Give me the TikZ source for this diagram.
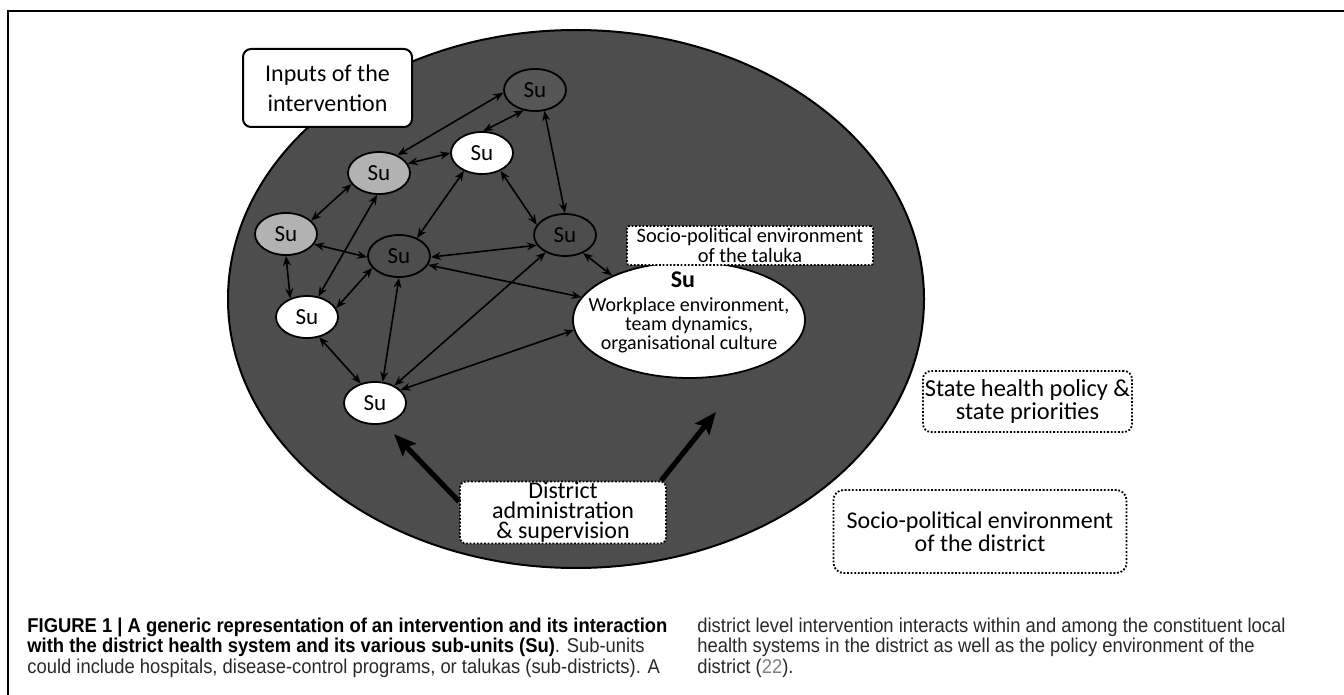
\documentclass[tikz,border=0pt]{standalone}
\usepackage{fontspec}
\setmainfont{Carlito}
\newfontfamily\capfont{Liberation Sans}[FakeStretch=0.92]
\usetikzlibrary{arrows.meta,shapes.geometric}
\definecolor{field}{RGB}{77,77,77}
\definecolor{unitdark}{RGB}{86,86,86}
\definecolor{unitlight}{RGB}{178,178,178}
\definecolor{refgray}{RGB}{128,128,128}
\definecolor{captext}{RGB}{40,40,40}

\begin{document}
\begin{tikzpicture}[x=0.5pt,y=-0.5pt,
  unit/.style={ellipse,draw=black,line width=0.9pt,minimum width=31pt,minimum height=21pt,
    inner sep=0pt,font=\fontsize{11.5}{12}\selectfont},
  link/.style={{Stealth[length=5pt,width=4pt]}-{Stealth[length=5pt,width=4pt]},line width=0.8pt},
  push/.style={-{Stealth[length=11pt,width=9pt,inset=2pt]},line width=2.6pt},
  dotbox/.style={draw=black,fill=white,line width=0.9pt,dash pattern=on 0.9pt off 0.9pt,
    align=center,inner sep=0pt},
  capline/.style={anchor=base west,inner sep=0pt,text=captext,font=\capfont\fontsize{10}{11}\selectfont}
]
\useasboundingbox (0,0) rectangle (1344,695);

% figure frame
\draw[line width=0.75pt] (8,695) -- (8,11) -- (1344,11);

% the district
\node[ellipse,draw=black,fill=field,line width=1pt,minimum width=348pt,minimum height=269pt,
  inner sep=0pt] (district) at (576,299) {};

% sub-units
\node[unit,fill=unitdark]  (s1) at (535,90)  {Su};
\node[unit,fill=white]     (s2) at (482,153) {Su};
\node[unit,fill=unitlight] (s3) at (379,173) {Su};
\node[unit,fill=unitlight] (s4) at (286,234) {Su};
\node[unit,fill=field]     (s5) at (399,256) {Su};
\node[unit,fill=field]     (s6) at (565,235) {Su};
\node[unit,fill=white]     (s7) at (307,317) {Su};
\node[unit,fill=white]     (s8) at (375,403) {Su};

% the taluka sub-unit in detail
\node[ellipse,draw=black,fill=white,line width=0.9pt,minimum width=116pt,minimum height=58pt,
  inner sep=0pt] (core) at (689,320) {};
\node[font=\bfseries\fontsize{12}{12}\selectfont,inner sep=0pt] (coretitle) at (683,280) {Su};
\node[align=center,inner sep=0pt,font=\fontsize{10}{8}\selectfont] (corebody) at (689,325)
  {Workplace environment,\\team dynamics,\\organisational culture};

% interactions between sub-units
\draw[link] (s3.44)  -- (s1.185);
\draw[link] (s1.241) -- (s2.87);
\draw[link] (s3.18)  -- (s2.180);
\draw[link] (s1.294) -- (s6.90);
\draw[link] (s2.225) -- (s5.45);
\draw[link] (s2.316) -- (s6.160);
\draw[link] (s3.202) -- (s4.28);
\draw[link] (s3.265) -- (s7.61);
\draw[link] (s4.340) -- (s5.182);
\draw[link] (s4.270) -- (s7.132);
\draw[link] (s7.17)  -- (s5.204);
\draw[link] (s5.358) -- (s6.200);
\draw[link] (s5.343) -- (core.168);
\draw[link] (s6.315) -- (core.150);
\draw[link] (s5.270) -- (s8.70);
\draw[link] (s6.222) -- (s8.42);
\draw[link] (core.185) -- (s8.27);
\draw[link] (s7.301) -- (s8.126);

% labels and contexts
\node[draw=black,fill=white,line width=1pt,rounded corners=4pt,minimum width=84.5pt,
  minimum height=39pt,align=center,inner sep=0pt,font=\fontsize{12}{15}\selectfont]
  (inputs) at (327.5,88) {Inputs of the\\intervention};
\node[dotbox,rounded corners=1pt,minimum width=123pt,minimum height=19.5pt,
  font=\fontsize{10.2}{7.5}\selectfont] (taluka) at (750,245.5)
  {Socio-political environment\\of the taluka};
\node[dotbox,rounded corners=4pt,minimum width=104.5pt,minimum height=30.5pt,
  font=\fontsize{12.2}{9.5}\selectfont] (state) at (1027.5,401.5)
  {State health policy \&\\state priorities};
\node[dotbox,rounded corners=5pt,minimum width=146.5pt,minimum height=41.5pt,
  font=\fontsize{12}{10}\selectfont] (socio) at (980,531.5)
  {Socio-political environment\\of the district};
\node[dotbox,rounded corners=3pt,minimum width=103pt,minimum height=31pt,
  font=\fontsize{12}{10}\selectfont] (admin) at (563,512.5)
  {District\\administration\\\& supervision};

% district administration acting on the sub-units
\coordinate (aimL) at (394,434);
\coordinate (aimR) at (716,412);
\draw[push] (admin.174) -- (aimL);
\draw[push] (admin.18) -- (aimR);

% caption
\node[capline,text=black] (c1) at (27,632) {\bfseries FIGURE 1 | A generic representation of an intervention and its interaction};
\node[capline] (c2) at (27,652.5) {\textcolor{black}{\bfseries with the district health system and its various sub-units (Su)}. Sub-units};
\node[capline] (c3) at (27,673) {could include hospitals, disease-control programs, or talukas (sub-districts). A};
\node[capline] (c4) at (697,632) {district level intervention interacts within and among the constituent local};
\node[capline] (c5) at (697,652.5) {health systems in the district as well as the policy environment of the};
\node[capline] (c6) at (697,673) {district (\textcolor{refgray}{22}).};
\end{tikzpicture}
\end{document}
